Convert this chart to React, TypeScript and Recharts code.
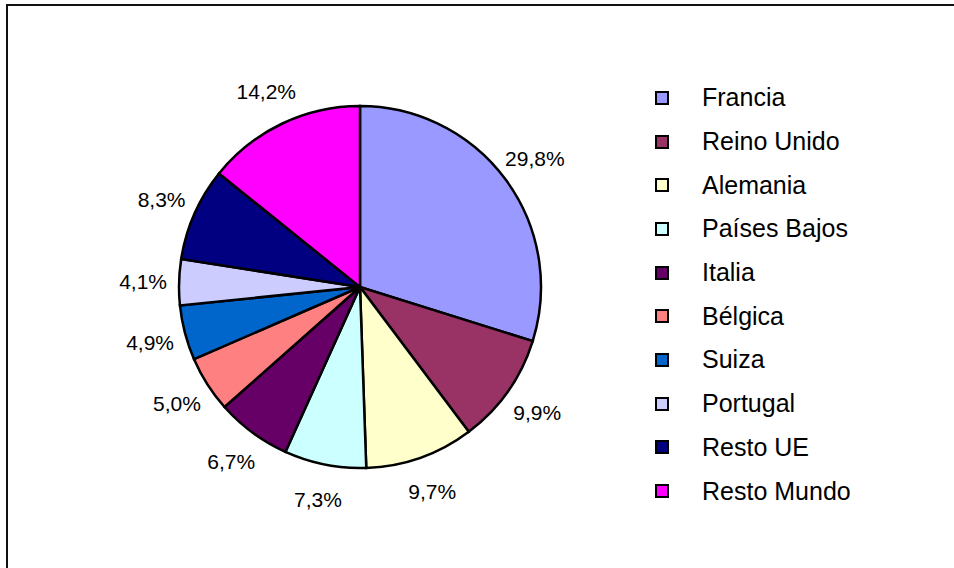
import React from 'react';
import { PieChart, Pie, Cell, Legend } from 'recharts';

const categories = [
  'Francia',
  'Reino Unido',
  'Alemania',
  'Países Bajos',
  'Italia',
  'Bélgica',
  'Suiza',
  'Portugal',
  'Resto UE',
  'Resto Mundo',
];
const shares = [29.8, 9.9, 9.7, 7.3, 6.7, 5.0, 4.9, 4.1, 8.3, 14.2];
const colors = [
  '#9999FF',
  '#993366',
  '#FFFFCC',
  '#CCFFFF',
  '#660066',
  '#FF8080',
  '#0066CC',
  '#CCCCFF',
  '#000080',
  '#FF00FF',
];

const data = categories.map((name, i) => ({ name, value: shares[i] }));

const RAD = Math.PI / 180;
const FONT = '"Liberation Sans", Arial, sans-serif';

function renderLabel(props: any) {
  const { cx, cy, midAngle, outerRadius, value } = props;
  const r = outerRadius + 36;
  const x = cx + r * Math.cos(-midAngle * RAD);
  const y = cy + r * Math.sin(-midAngle * RAD);
  return (
    <text
      x={x}
      y={y}
      textAnchor="middle"
      dominantBaseline="central"
      fill="#000"
      fontSize={21}
      fontFamily={FONT}
    >
      {value.toFixed(1).replace('.', ',') + '%'}
    </text>
  );
}

function LegendList() {
  return (
    <div style={{ fontFamily: FONT, fontSize: 25, color: '#000' }}>
      {categories.map((name, i) => (
        <div key={name} style={{ display: 'flex', alignItems: 'center', height: 43.7 }}>
          <span
            style={{
              display: 'inline-block',
              width: 10,
              height: 10,
              background: colors[i],
              border: '2px solid #000',
              marginLeft: 5,
              marginRight: 33,
            }}
          />
          <span>{name}</span>
        </div>
      ))}
    </div>
  );
}

export default function App() {
  return (
    <div
      style={{
        position: 'fixed',
        left: 0,
        top: 0,
        width: 954,
        height: 568,
        background: '#fff',
        overflow: 'hidden',
      }}
    >
      <div
        style={{
          position: 'absolute',
          left: 6,
          top: 4,
          width: 1000,
          height: 600,
          borderLeft: '2px solid #111',
          borderTop: '2px solid #111',
        }}
      />
      <div style={{ position: 'absolute', left: 0, top: 0 }}>
        <PieChart width={954} height={568} margin={{ top: 0, right: 0, bottom: 0, left: 0 }}>
          <Pie
            data={data}
            dataKey="value"
            nameKey="name"
            cx={360}
            cy={287}
            outerRadius={181}
            startAngle={90}
            endAngle={-270}
            stroke="#000"
            strokeWidth={2.5}
            label={renderLabel}
            labelLine={false}
            isAnimationActive={false}
          >
            {data.map((d, i) => (
              <Cell
                key={d.name}
                fill={colors[i]}
                stroke="#000"
                strokeWidth={2.5}
                style={{ stroke: '#000', strokeWidth: 2.5 }}
              />
            ))}
          </Pie>
          <Legend
            content={<LegendList />}
            wrapperStyle={{ position: 'absolute', left: 650, top: 76, width: 260 }}
          />
        </PieChart>
      </div>
    </div>
  );
}
